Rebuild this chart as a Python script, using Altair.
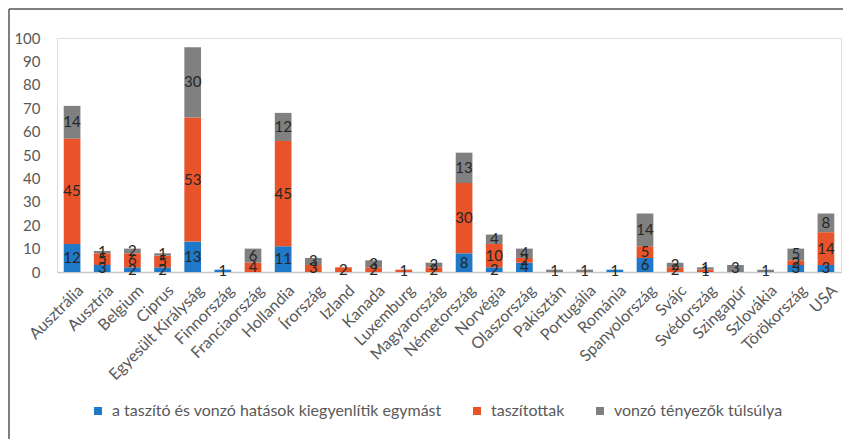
import altair as alt
import pandas as pd

countries = ["Ausztrália", "Ausztria", "Belgium", "Ciprus", "Egyesült Királyság",
             "Finnország", "Franciaország", "Hollandia", "Írország", "Izland",
             "Kanada", "Luxemburg", "Magyarország", "Németország", "Norvégia",
             "Olaszország", "Pakisztán", "Portugália", "Románia", "Spanyolország",
             "Svájc", "Svédország", "Szingapúr", "Szlovákia", "Törökország", "USA"]
blue = [12, 3, 2, 2, 13, 1, 0, 11, 0, 0, 0, 0, 0, 8, 2, 4, 0, 0, 1, 6, 0, 0, 0, 0, 3, 3]
orange = [45, 5, 6, 5, 53, 0, 4, 45, 3, 2, 2, 1, 2, 30, 10, 2, 0, 0, 0, 5, 2, 1, 0, 0, 2, 14]
gray = [14, 1, 2, 1, 30, 0, 6, 12, 3, 0, 3, 0, 2, 13, 4, 4, 1, 1, 0, 14, 2, 1, 3, 1, 5, 8]
y_ticks = [0, 10, 20, 30, 40, 50, 60, 70, 80, 90, 100]
series = ["a taszító és vonzó hatások kiegyenlítik egymást", "taszítottak", "vonzó tényezők túlsúlya"]
colors = ["#1F78C8", "#E9532A", "#808080"]

rows = []
for i, c in enumerate(countries):
    base = 0
    for s, vals in zip(series, [blue, orange, gray]):
        v = vals[i]
        if v > 0:
            rows.append({"country": c, "series": s, "value": v,
                         "lo": base, "hi": base + v, "mid": base + v / 2})
        base += v
df = pd.DataFrame(rows)

FONT = "Lato"
W, H = 784, 234
PL, PT = 49, 30

x_axis = alt.Axis(labelAngle=-45, labelAlign="right", labelBaseline="top",
                  labelFontSize=16, labelColor="#595959", labelFont=FONT,
                  labelPadding=10, labelOffset=3, ticks=False, domainColor="#C8C8C8",
                  domainWidth=1.5, labelOverlap=False)
y_axis = alt.Axis(values=y_ticks, grid=False, domain=False, ticks=False,
                  labelFontSize=15, labelColor="#595959", labelFont=FONT,
                  labelPadding=17, labelOverlap=False)
x_scale = alt.Scale(paddingInner=0.446, paddingOuter=0.223)
y_scale = alt.Scale(domain=[0, 100], nice=False)

bars = alt.Chart(df).mark_bar().encode(
    x=alt.X("country:N", sort=countries, title=None, scale=x_scale, axis=x_axis),
    y=alt.Y("lo:Q", title=None, scale=y_scale, axis=y_axis),
    y2="hi:Q",
    color=alt.Color("series:N", scale=alt.Scale(domain=series, range=colors),
                    legend=alt.Legend(title=None, orient="none", direction="horizontal",
                                      legendX=33, legendY=365, symbolType="square",
                                      symbolSize=64, symbolStrokeWidth=0,
                                      labelFontSize=16, labelFont=FONT,
                                      labelColor="#595959", labelOffset=6,
                                      columnPadding=27, padding=0,
                                      labelLimit=500)),
)

labels = alt.Chart(df).mark_text(fontSize=15, font=FONT, color="#262626",
                                 baseline="middle", align="center").encode(
    x=alt.X("country:N", sort=countries, title=None, scale=x_scale, axis=x_axis),
    y=alt.Y("mid:Q", title=None, scale=y_scale, axis=y_axis),
    text="value:Q",
)

frame_df = pd.DataFrame({"k": [0]})
top_line = alt.Chart(frame_df).mark_rule(color="#555555", strokeWidth=1.5).encode(
    x=alt.value(-PL + 1), x2=alt.value(W + 10), y=alt.value(-PT + 1))
left_line = alt.Chart(frame_df).mark_rule(color="#555555", strokeWidth=1.5).encode(
    x=alt.value(-PL + 1), y=alt.value(-PT + 1), y2=alt.value(H + 200))

chart = alt.layer(bars, labels, top_line, left_line).properties(
    width=W, height=H,
    autosize=alt.AutoSizeParams(type="none"),
    padding={"left": PL, "top": PT, "right": 851 - 16 - PL - W, "bottom": 431 - PT - H},
).configure_view(stroke=None).configure(background="white")

chart.save("out.html", embed_options={"renderer": "svg", "actions": False})
